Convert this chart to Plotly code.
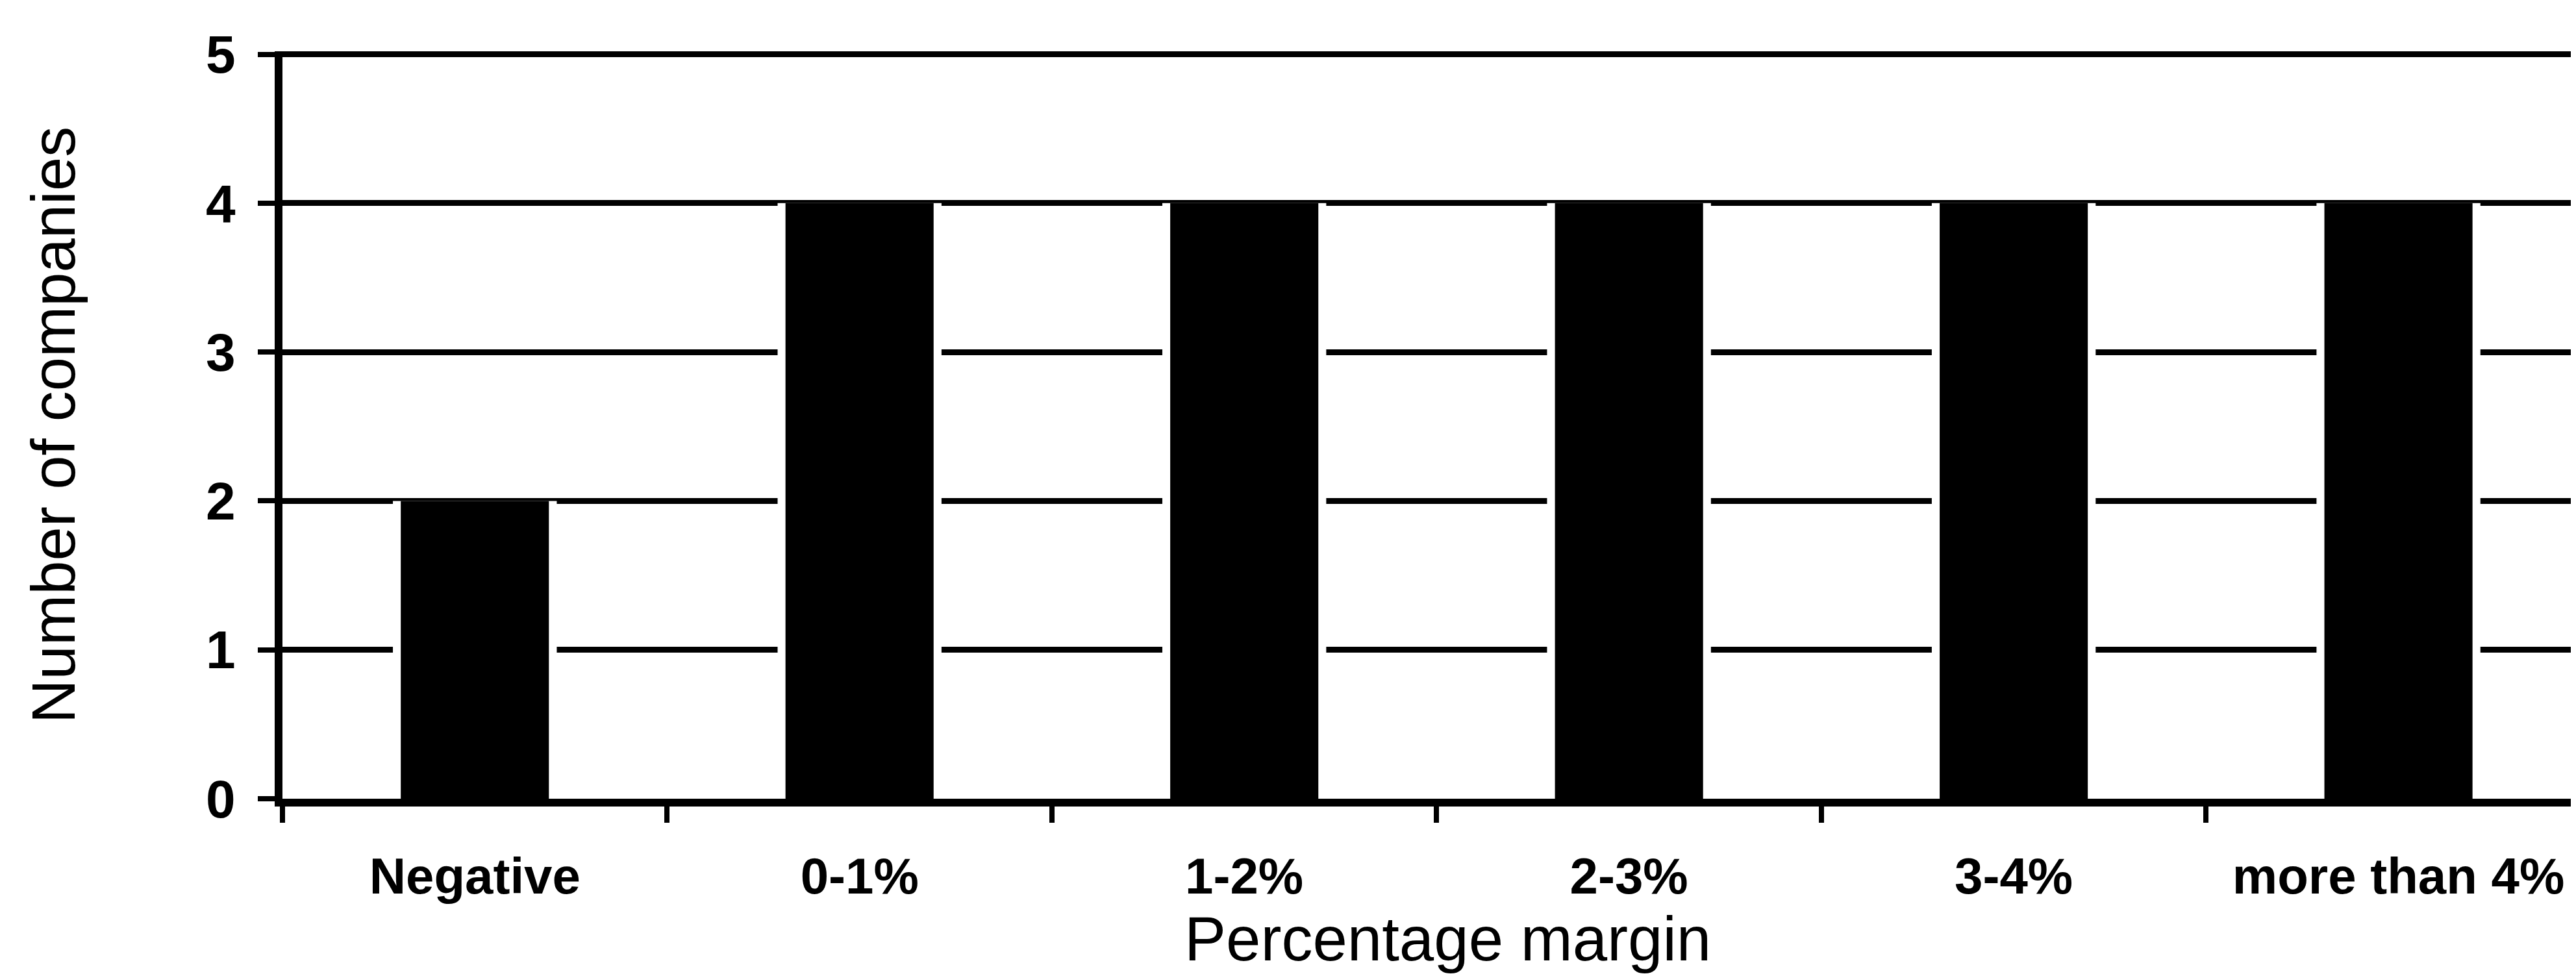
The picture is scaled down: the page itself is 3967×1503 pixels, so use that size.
import plotly.graph_objects as go

categories = ["Negative", "0-1%", "1-2%", "2-3%", "3-4%", "more than 4%"]
companies = [2, 4, 4, 4, 4, 4]
y_ticks = [0, 1, 2, 3, 4, 5]

x_title = "Percentage margin"
y_title = "Number of companies"

FONT = "Liberation Sans, Arial, sans-serif"

fig = go.Figure()
# white halo behind each bar (produces the gaps in the gridlines next to the bars)
fig.add_trace(go.Bar(x=categories, y=companies, width=0.426,
                     marker=dict(color="white", line=dict(width=0)),
                     hoverinfo="skip", showlegend=False))
fig.add_trace(go.Bar(x=categories, y=companies, width=0.385,
                     marker=dict(color="black", line=dict(width=0)),
                     showlegend=False))

fig.update_layout(
    width=3967, height=1503,
    margin=dict(l=427, r=0, t=71, b=281),
    paper_bgcolor="white", plot_bgcolor="white",
    barmode="overlay",
    font=dict(family=FONT, color="black"),
)

fig.add_annotation(
    text=x_title, xref="paper", yref="paper",
    x=0.507, y=-0.2441, xanchor="center", yanchor="bottom", yshift=10,
    showarrow=False, font=dict(family=FONT, size=96, color="black"),
)

fig.update_xaxes(
    type="category",
    range=[-0.5, 5.475],
    showgrid=False,
    showline=True, linecolor="black", linewidth=12,
    ticks="outside", tickson="boundaries", ticklen=25, tickwidth=8, tickcolor="black",
    tickfont=dict(family=FONT, size=78, color="black", weight="bold"),
    ticklabelstandoff=40,
    zeroline=False,
)

fig.update_yaxes(
    range=[0, 5.02],
    tickvals=y_ticks,
    ticktext=[str(v) for v in y_ticks],
    showgrid=True, gridcolor="black", gridwidth=9,
    showline=True, linecolor="black", linewidth=12,
    ticks="outside", ticklen=26, tickwidth=8, tickcolor="black",
    tickfont=dict(family=FONT, size=82, color="black", weight="bold"),
    ticklabelstandoff=18,
    title=dict(text=y_title, font=dict(family=FONT, size=94, color="black"), standoff=175),
    zeroline=False,
)

fig.write_html("out.html")
